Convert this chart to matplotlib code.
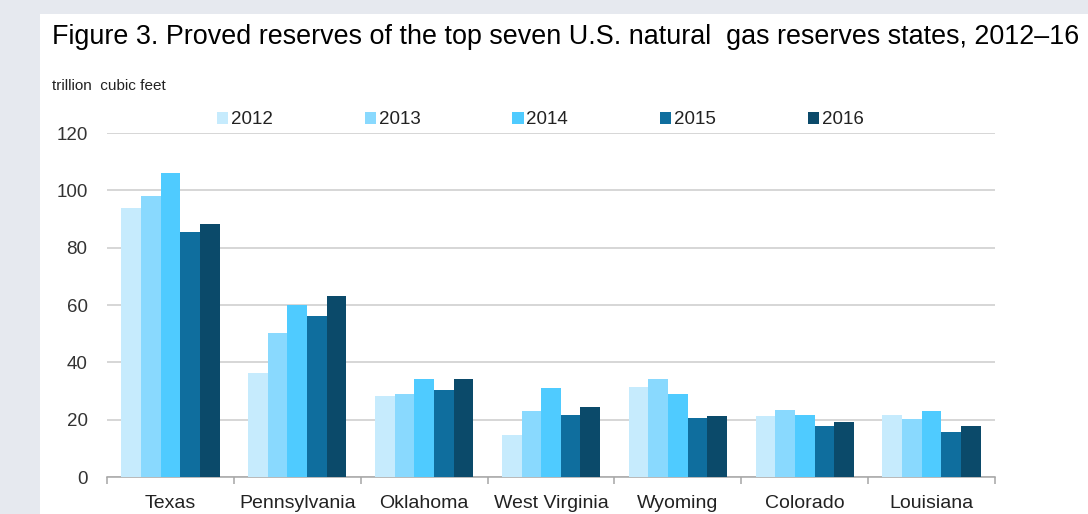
import matplotlib
matplotlib.use("Agg")
import matplotlib.pyplot as plt
import numpy as np
from matplotlib.patches import Rectangle, Patch

plt.rcParams['font.family'] = ['Liberation Sans', 'DejaVu Sans']

states = ["Texas", "Pennsylvania", "Oklahoma", "West Virginia", "Wyoming", "Colorado", "Louisiana"]
years = ["2012", "2013", "2014", "2015", "2016"]
v2012 = [93.7, 36.4, 28.2, 14.5, 31.4, 21.3, 21.7]
v2013 = [98.0, 50.1, 28.8, 23.0, 34.2, 23.5, 20.1]
v2014 = [106.2, 60.0, 34.1, 31.0, 28.9, 21.8, 22.9]
v2015 = [85.6, 56.2, 30.4, 21.7, 20.7, 17.9, 15.7]
v2016 = [88.4, 63.0, 34.2, 24.5, 21.3, 19.1, 17.9]
series = [v2012, v2013, v2014, v2015, v2016]
colors = ["#C6EBFD", "#89D9FE", "#4FCBFF", "#0F6E9E", "#0B4A6A"]

fig = plt.figure(figsize=(10.88, 5.14), dpi=100)
fig.patch.set_facecolor("#E6E9EF")
bg = Rectangle((40/1088, 0), 1 - 40/1088, 1 - 14/514,
               transform=fig.transFigure, facecolor="white",
               edgecolor="none", zorder=-10)
fig.add_artist(bg)

ax = fig.add_axes([107/1088, 37/514, 888/1088, 344/514])
ax.set_zorder(1)
ax.set_facecolor("white")

x = np.arange(len(states))
bw = 0.155
for i, (vals, c) in enumerate(zip(series, colors)):
    ax.bar(x + (i - 2) * bw, vals, width=bw, color=c, edgecolor="none", zorder=3, label=years[i])

ax.set_xlim(-0.5, len(states) - 0.5)
ax.set_ylim(0, 120)
ax.set_yticks(np.arange(0, 121, 20))
ax.yaxis.grid(True, color="#CBCBCB", linewidth=1.1, zorder=0)
ax.set_axisbelow(True)
for s in ["top", "right", "left"]:
    ax.spines[s].set_visible(False)
ax.spines["bottom"].set_color("#A6A6A6")
ax.spines["bottom"].set_linewidth(1.1)
ax.tick_params(axis="y", length=0, pad=14, labelsize=13.5, labelcolor="#333333")
ax.set_xticks(x)
ax.set_xticklabels(states)
ax.set_xticks(np.arange(-0.5, len(states)), minor=True)
ax.tick_params(axis="x", which="major", length=0, pad=13, labelsize=14, labelcolor="#222222")
ax.tick_params(axis="x", which="minor", length=5, color="#A6A6A6", width=1.1)

handles = [Patch(facecolor=c, edgecolor="none") for c in colors]
leg = ax.legend(handles, years, loc="center", bbox_to_anchor=(0.488, 1.038), ncol=5,
                frameon=False, fontsize=13.5, handlelength=0.6, handleheight=0.6,
                handletextpad=0.15, columnspacing=4.9, borderaxespad=0)
for t in leg.get_texts():
    t.set_color("#222222")

fig.text(52/1088, 1 - 44/514, "Figure 3. Proved reserves of the top seven U.S. natural  gas reserves states, 2012\u201316",
         fontsize=19.4, color="black", ha="left", va="baseline")
fig.text(52/1088, 1 - 90/514, "trillion  cubic feet", fontsize=11, color="#222222", ha="left", va="baseline")

fig.savefig("out.png", dpi=100, facecolor=fig.get_facecolor())
